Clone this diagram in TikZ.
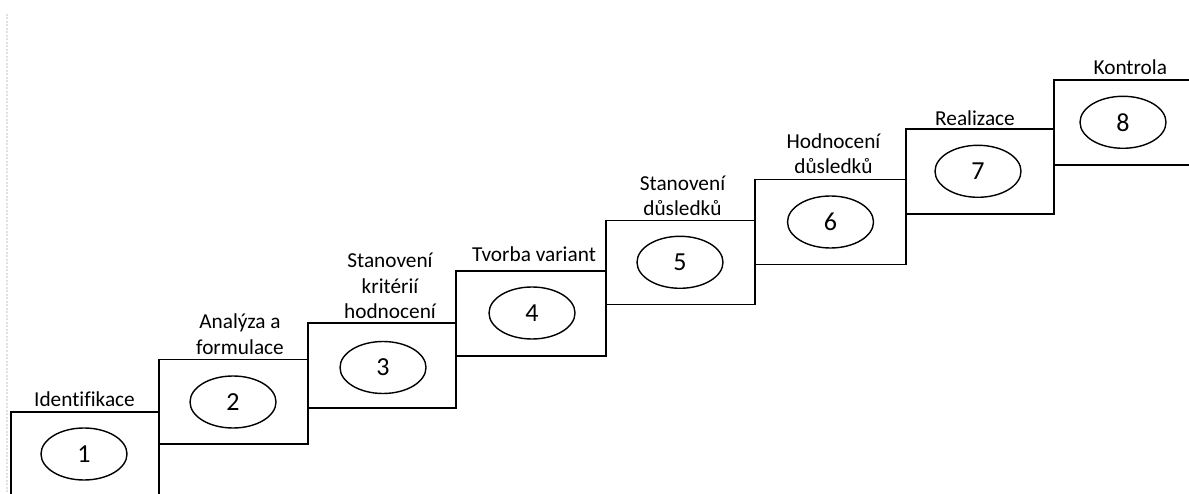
\documentclass[tikz,border=0pt]{standalone}
\usepackage{fontspec}
\setmainfont{Carlito}[Ligatures=CommonOff]
\usetikzlibrary{shapes.geometric}
\begin{document}
\begin{tikzpicture}[x=1pt,y=-1pt,
  stepbox/.style={draw=black, line width=1.8pt, inner sep=0pt, minimum height=84.5pt},
  numoval/.style={draw=black, ellipse, line width=1.4pt, inner sep=0pt, minimum width=86pt, minimum height=52pt, font=\fontsize{26}{30}\selectfont},
  steplabel/.style={anchor=south, inner sep=0pt, align=center, font=\fontsize{21.3}{25.5}\selectfont},
  pageedge/.style={draw=black!12, line width=1.2pt, dash pattern=on 2pt off 1.5pt}]
\useasboundingbox (0,0) rectangle (1189,494);
\clip (0,0) rectangle (1189,494);
\fill[white] (0,0) rectangle (1189,494);
% faint page edge
\coordinate (pe1) at (7,14);
\coordinate (pe2) at (7,494);
\draw[pageedge] (pe1) -- (pe2);
% step boxes
\node[stepbox, minimum width=148pt] (b1) at (85,453.9) {};
\node[stepbox, minimum width=149pt] (b2) at (233.5,401.75) {};
\node[stepbox, minimum width=148pt, minimum height=85pt] (b3) at (382,365.5) {};
\node[stepbox, minimum width=150pt, minimum height=85pt] (b4) at (531,313.5) {};
\node[stepbox, minimum width=149pt, minimum height=84pt] (b5) at (680.5,262.5) {};
\node[stepbox, minimum width=151pt, minimum height=85pt] (b6) at (830.5,222) {};
\node[stepbox, minimum width=148pt, minimum height=85pt] (b7) at (980,171.8) {};
\node[stepbox, minimum width=149pt, minimum height=85.3pt] (b8) at (1128.5,122.65) {};
% number ovals
\node[numoval] (e1) at (84,454) {1};
\node[numoval] (e2) at (233,402) {2};
\node[numoval] (e3) at (383,367.5) {3};
\node[numoval] (e4) at (532,313) {4};
\node[numoval] (e5) at (680,262.3) {5};
\node[numoval] (e6) at (830.5,222) {6};
\node[numoval] (e7) at (978,171.3) {7};
\node[numoval] (e8) at (1123,122.3) {8};
% labels
\node[steplabel] (l1) at (84.5,406.7) {Identifikace};
\node[steplabel] (l2) at (240,354.5) {Analýza a\\formulace};
\node[steplabel] (l3) at (390,319) {Stanovení\\kritérií\\hodnocení};
\node[steplabel] (l4) at (534,261.7) {Tvorba variant};
\node[steplabel] (l5) at (682.5,216) {Stanovení\\důsledků};
\node[steplabel] (l6) at (833.5,174.3) {Hodnocení\\důsledků};
\node[steplabel] (l7) at (975,125.7) {Realizace};
\node[steplabel] (l8) at (1130.3,74.5) {Kontrola};
\end{tikzpicture}
\end{document}
